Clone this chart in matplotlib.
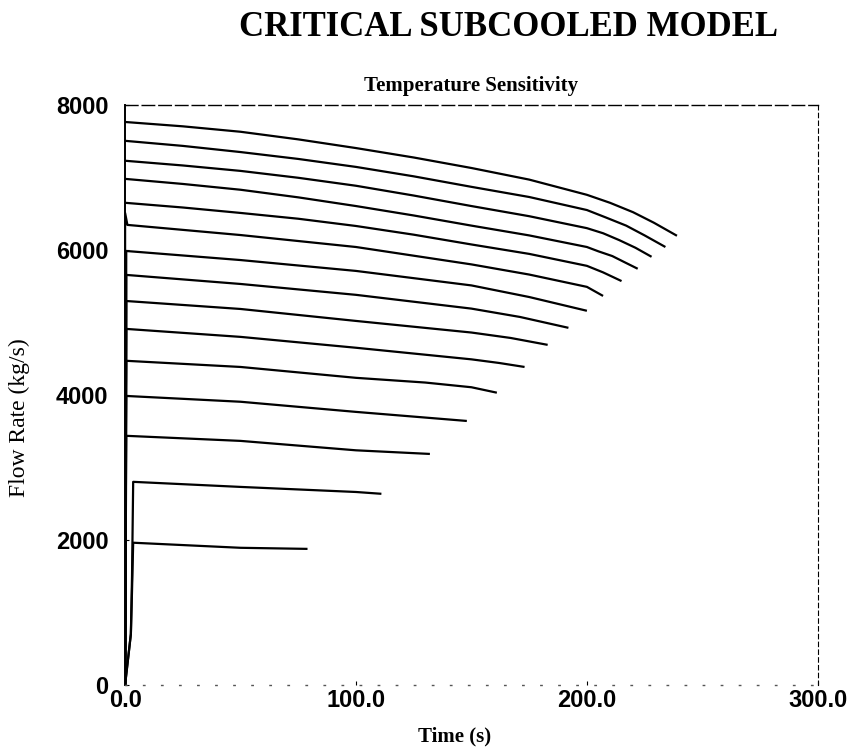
import matplotlib.pyplot as plt
import numpy as np

# flow traces: (time s, flow kg/s)
t_c1 = [0, 25, 50, 75, 100, 125, 150, 175, 200, 210, 220, 229, 239]
q_c1 = [7765, 7705, 7630, 7525, 7405, 7275, 7130, 6970, 6760, 6650, 6520, 6375, 6195]
t_c2 = [0, 25, 50, 75, 100, 125, 150, 175, 200, 208, 217, 225, 234]
q_c2 = [7505, 7435, 7350, 7255, 7145, 7015, 6870, 6730, 6550, 6450, 6335, 6200, 6040]
t_c3 = [0, 25, 50, 75, 100, 125, 150, 175, 200, 207, 214, 221, 228]
q_c3 = [7230, 7165, 7090, 6995, 6885, 6750, 6605, 6465, 6300, 6230, 6135, 6030, 5905]
t_c4 = [0, 25, 50, 75, 100, 125, 150, 175, 200, 205, 211, 216, 222]
q_c4 = [6980, 6910, 6830, 6725, 6605, 6475, 6335, 6200, 6040, 5980, 5915, 5835, 5740]
t_c5 = [0, 25, 50, 75, 100, 125, 150, 175, 200, 207, 215]
q_c5 = [6650, 6585, 6510, 6430, 6330, 6210, 6075, 5945, 5780, 5690, 5570]
t_c6 = [0, 0, 1, 50, 100, 150, 175, 200, 207]
q_c6 = [0, 6510, 6345, 6205, 6040, 5800, 5660, 5490, 5365]
t_c7 = [0, 0.5, 50, 100, 150, 175, 200]
q_c7 = [0, 5985, 5860, 5710, 5510, 5350, 5160]
t_c8 = [0, 0.5, 50, 100, 150, 171, 192]
q_c8 = [0, 5655, 5530, 5380, 5190, 5075, 4925]
t_c9 = [0, 0.5, 50, 100, 150, 167, 183]
q_c9 = [0, 5295, 5185, 5020, 4860, 4785, 4690]
t_c10 = [0, 0.5, 50, 100, 150, 162, 173]
q_c10 = [0, 4910, 4800, 4650, 4490, 4440, 4385]
t_c11 = [0, 0.5, 50, 100, 130, 150, 161]
q_c11 = [0, 4470, 4385, 4235, 4170, 4105, 4030]
t_c12 = [0, 0.5, 50, 100, 148]
q_c12 = [0, 3985, 3905, 3765, 3640]
t_c13 = [0, 0.5, 50, 100, 132]
q_c13 = [0, 3435, 3365, 3235, 3185]
t_c14 = [0, 2.5, 3.0, 3.5, 50, 100, 111]
q_c14 = [0, 700, 1500, 2800, 2730, 2660, 2635]
t_c15 = [0, 2.5, 3.0, 3.5, 50, 79]
q_c15 = [0, 700, 1300, 1960, 1890, 1875]

times = [t_c1, t_c2, t_c3, t_c4, t_c5, t_c6, t_c7, t_c8,
         t_c9, t_c10, t_c11, t_c12, t_c13, t_c14, t_c15]
flows = [q_c1, q_c2, q_c3, q_c4, q_c5, q_c6, q_c7, q_c8,
         q_c9, q_c10, q_c11, q_c12, q_c13, q_c14, q_c15]

x_ticks = [0, 100, 200, 300]
x_labels = ["0.0", "100.0", "200.0", "300.0"]
y_ticks = [0, 2000, 4000, 6000, 8000]

fig = plt.figure(figsize=(8.51, 7.55), dpi=100)
ax = fig.add_axes([0.147, 0.093, 0.814, 0.768])

for t, q in zip(times, flows):
    ax.plot(t, q, color="black", lw=1.6, solid_capstyle="butt",
            solid_joinstyle="round")

ax.set_xlim(0, 300)
ax.set_ylim(0, 8000)
ax.set_xticks(x_ticks)
ax.set_xticklabels(x_labels)
ax.set_yticks(y_ticks)

for lab in ax.get_xticklabels() + ax.get_yticklabels():
    lab.set_fontfamily("Liberation Sans")
    lab.set_fontweight("bold")
    lab.set_fontsize(17)
ax.tick_params(direction="in", length=3, width=0.8)
ax.tick_params(axis="y", pad=12)
ax.tick_params(axis="x", pad=3)

# scanned-looking frame
ax.spines["left"].set_linewidth(1.4)
ax.spines["top"].set_linestyle((0, (9, 3)))
ax.spines["top"].set_linewidth(1.0)
ax.spines["right"].set_linestyle((0, (4, 3)))
ax.spines["right"].set_linewidth(0.8)
ax.spines["bottom"].set_linestyle((0, (1, 12)))
ax.spines["bottom"].set_linewidth(1.0)
ax.spines["bottom"].set_color("#555555")

ax.set_xlabel("Time (s)", family="Liberation Serif", fontweight="bold",
              fontsize=15)
ax.xaxis.set_label_coords(0.475, -0.072)
ax.set_ylabel("Flow Rate (kg/s)", family="Liberation Serif", fontsize=17)
ax.yaxis.set_label_coords(-0.137, 0.46)
ax.set_title("Temperature Sensitivity", family="Liberation Serif",
             fontweight="bold", fontsize=15, pad=10)
fig.text(0.598, 0.985, "CRITICAL SUBCOOLED MODEL", family="Liberation Serif",
         fontweight="bold", fontsize=25, ha="center", va="top")

fig.savefig("out.png", dpi=100)
